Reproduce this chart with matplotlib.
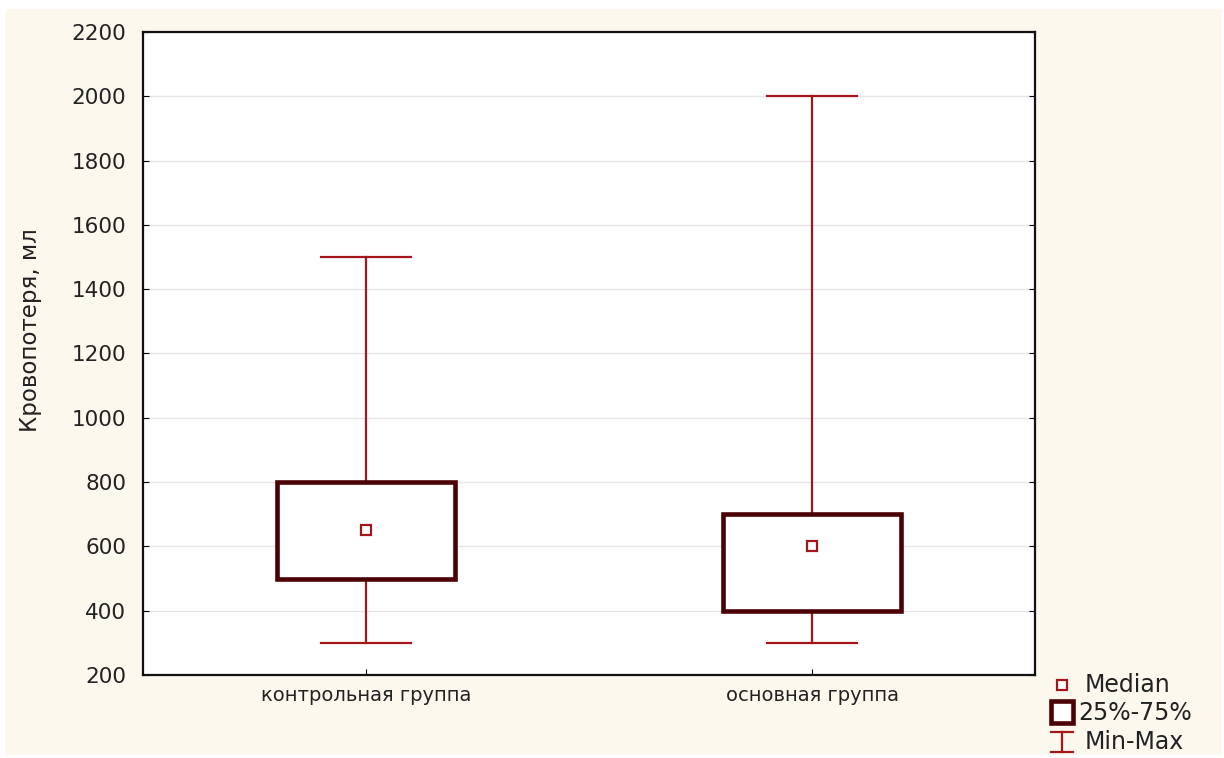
import matplotlib.pyplot as plt
from matplotlib.patches import Rectangle
from matplotlib.lines import Line2D

plt.rcParams['font.family'] = ['DejaVu Sans']

groups = ['контрольная группа', 'основная группа']
mins = [300, 300]
q1 = [500, 400]
medians = [650, 600]
q3 = [800, 700]
maxs = [1500, 2000]
yticks = [200, 400, 600, 800, 1000, 1200, 1400, 1600, 1800, 2000, 2200]

box_col = '#4a0004'
whisk_col = '#a3161c'
bg = '#fcf8ee'
W, H = 1224, 758

fig = plt.figure(figsize=(W / 100, H / 100), dpi=100, facecolor='white')
fig.patches.append(Rectangle((5 / W, 3 / H), 1216 / W, 746 / H,
                             transform=fig.transFigure, facecolor=bg,
                             edgecolor='none', zorder=-10))
ax = fig.add_axes([143 / W, 1 - 675 / H, 892 / W, 643 / H])
ax.set_facecolor('white')

box_w = 0.4
cap_w = 0.2
for i in range(len(groups)):
    # whiskers: min-max range
    ax.plot([i, i], [mins[i], q1[i]], color=whisk_col, lw=1.6, zorder=2)
    ax.plot([i, i], [q3[i], maxs[i]], color=whisk_col, lw=1.6, zorder=2)
    ax.plot([i - cap_w / 2, i + cap_w / 2], [mins[i], mins[i]], color=whisk_col, lw=1.6, zorder=2)
    ax.plot([i - cap_w / 2, i + cap_w / 2], [maxs[i], maxs[i]], color=whisk_col, lw=1.6, zorder=2)
    # interquartile box
    ax.add_patch(Rectangle((i - box_w / 2, q1[i]), box_w, q3[i] - q1[i],
                           facecolor='white', edgecolor=box_col, lw=3.3, zorder=3))
    ax.plot(i, medians[i], marker='s', ms=7, mfc='white', mec=whisk_col, mew=1.6, zorder=4)

ax.set_xlim(-0.5, 1.5)
ax.set_ylim(200, 2200)
ax.set_yticks(yticks)
ax.set_xticks(range(len(groups)))
ax.set_xticklabels(groups, fontsize=14, color='#222222')
ax.tick_params(axis='y', labelsize=15.5, labelcolor='#222222', direction='in', length=4,
               right=True, pad=12)
ax.tick_params(axis='x', direction='in', length=4, pad=8)
ax.grid(axis='y', color='#e6e6e6', lw=1, zorder=0)
ax.set_axisbelow(True)
for s in ax.spines.values():
    s.set_linewidth(1.6)
    s.set_color('#111111')

fig.text(31 / W, 1 - 330 / H, 'Кровопотеря, мл', fontsize=16.5, rotation=90,
         ha='center', va='center', color='#222222')

# legend drawn outside the plot frame
lx = 1062 / W
fs = 17
fig.add_artist(Line2D([lx], [1 - 685 / H], marker='s', ms=7, mfc='white', mec=whisk_col,
                      mew=1.6, transform=fig.transFigure))
fig.text(1085 / W, 1 - 685 / H, 'Median', fontsize=fs, va='center', color='#222222')
fig.add_artist(Rectangle((1051 / W, 1 - 723 / H), 22 / W, 22 / H, facecolor='white',
                         edgecolor=box_col, lw=3.3, transform=fig.transFigure))
fig.text(1078 / W, 1 - 713 / H, '25%-75%', fontsize=fs, va='center', color='#222222')
fig.add_artist(Line2D([lx, lx], [1 - 732 / H, 1 - 752 / H], color=whisk_col, lw=1.6,
                      transform=fig.transFigure))
fig.add_artist(Line2D([lx - 11 / W, lx + 11 / W], [1 - 732 / H] * 2, color=whisk_col,
                      lw=1.6, transform=fig.transFigure))
fig.add_artist(Line2D([lx - 11 / W, lx + 11 / W], [1 - 752 / H] * 2, color=whisk_col,
                      lw=1.6, transform=fig.transFigure))
fig.text(1085 / W, 1 - 742 / H, 'Min-Max', fontsize=fs, va='center', color='#222222')

fig.savefig('out.png', dpi=100, facecolor='white')
